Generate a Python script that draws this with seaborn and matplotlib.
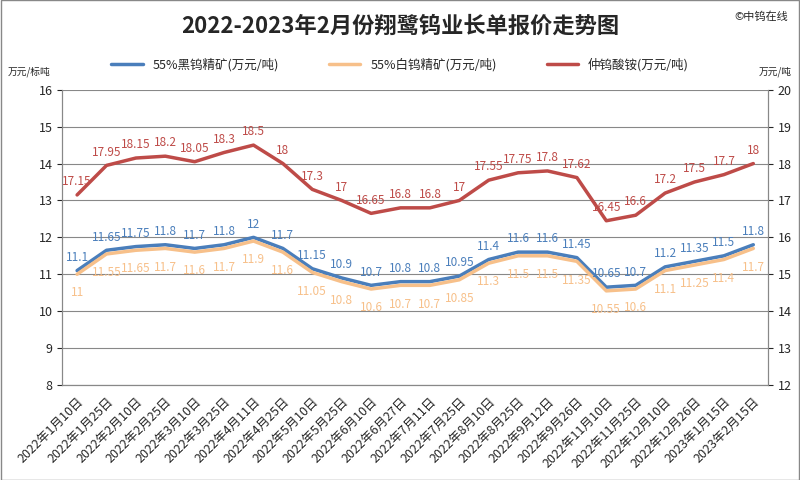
import numpy as np
import pandas as pd
import matplotlib
matplotlib.use('Agg')
import matplotlib.pyplot as plt
import seaborn as sns

sns.set_style('white')
plt.rcParams['font.family'] = ['Noto Sans CJK SC', 'DejaVu Sans']

dates = ['2022年1月10日', '2022年1月25日', '2022年2月10日', '2022年2月25日', '2022年3月10日',
         '2022年3月25日', '2022年4月11日', '2022年4月25日', '2022年5月10日', '2022年5月25日',
         '2022年6月10日', '2022年6月27日', '2022年7月11日', '2022年7月25日', '2022年8月10日',
         '2022年8月25日', '2022年9月12日', '2022年9月26日', '2022年11月10日', '2022年11月25日',
         '2022年12月10日', '2022年12月26日', '2023年1月15日', '2023年2月15日']
black = [11.1, 11.65, 11.75, 11.8, 11.7, 11.8, 12, 11.7, 11.15, 10.9, 10.7, 10.8, 10.8, 10.95,
         11.4, 11.6, 11.6, 11.45, 10.65, 10.7, 11.2, 11.35, 11.5, 11.8]
white = [11, 11.55, 11.65, 11.7, 11.6, 11.7, 11.9, 11.6, 11.05, 10.8, 10.6, 10.7, 10.7, 10.85,
         11.3, 11.5, 11.5, 11.35, 10.55, 10.6, 11.1, 11.25, 11.4, 11.7]
apt = [17.15, 17.95, 18.15, 18.2, 18.05, 18.3, 18.5, 18, 17.3, 17, 16.65, 16.8, 16.8, 17,
       17.55, 17.75, 17.8, 17.62, 16.45, 16.6, 17.2, 17.5, 17.7, 18]

c_black = '#4a7ebb'
c_white = '#f7c08a'
c_apt = '#be4b48'

x = np.arange(len(dates))
df = pd.DataFrame({'x': x, 'black': black, 'white': white, 'apt': apt})

fig = plt.figure(figsize=(8, 4.8), dpi=100)
ax = fig.add_axes([0.078, 0.198, 0.882, 0.615])
ax2 = ax.twinx()

sns.lineplot(data=df, x='x', y='black', ax=ax, color=c_black, lw=2.5, label='55%黑钨精矿(万元/吨)', legend=False)
sns.lineplot(data=df, x='x', y='white', ax=ax, color=c_white, lw=2.5, label='55%白钨精矿(万元/吨)', legend=False)
sns.lineplot(data=df, x='x', y='apt', ax=ax2, color=c_apt, lw=2.5, label='仲钨酸铵(万元/吨)', legend=False)

for xi, v in zip(x, black):
    ax.annotate(f'{v:g}', (xi, v), xytext=(0, 7), textcoords='offset points', ha='center', fontsize=8.5, color=c_black)
for xi, v in zip(x, white):
    ax.annotate(f'{v:g}', (xi, v), xytext=(0, -16), textcoords='offset points', ha='center', fontsize=8.5, color=c_white)
for xi, v in zip(x, apt):
    ax2.annotate(f'{v:g}', (xi, v), xytext=(0, 7), textcoords='offset points', ha='center', fontsize=8.5, color=c_apt)

ax.set_ylim(8, 16)
ax2.set_ylim(12, 20)
ax.set_xlim(-0.5, len(dates) - 0.5)
ax.set_yticks(range(8, 17))
ax2.set_yticks(range(12, 21))
ax.set_xticks(x)
ax.set_xticklabels(dates, rotation=45, ha='right', rotation_mode='anchor', fontsize=9)
ax.tick_params(axis='y', labelsize=9)
ax2.tick_params(axis='y', labelsize=9)
ax.grid(axis='y', color='#888888', lw=0.8)
ax.set_xlabel('')
ax.set_ylabel('')
ax2.set_ylabel('')
for a in (ax, ax2):
    a.spines['top'].set_visible(False)
    a.spines['left'].set_color('#888888')
    a.spines['right'].set_color('#888888')
    a.spines['bottom'].set_color('#888888')

fig.text(0.5, 0.945, '2022-2023年2月份翔鹭钨业长单报价走势图', ha='center', va='center', fontsize=16, fontweight='bold')
fig.text(0.985, 0.965, '©中钨在线', ha='right', va='center', fontsize=8)
fig.text(0.01, 0.845, '万元/标吨', ha='left', fontsize=7)
fig.text(0.99, 0.845, '万元/吨', ha='right', fontsize=7)

h1, l1 = ax.get_legend_handles_labels()
h2, l2 = ax2.get_legend_handles_labels()
fig.legend(h1 + h2, l1 + l2, loc='center', bbox_to_anchor=(0.5, 0.865), ncol=3, frameon=False, fontsize=9,
           handlelength=2.5, columnspacing=4)

fig.patches.append(plt.Rectangle((0.001, 0.001), 0.998, 0.998, transform=fig.transFigure, fill=False,
                                 edgecolor='#888888', lw=1))
fig.savefig('out.png', dpi=100)
